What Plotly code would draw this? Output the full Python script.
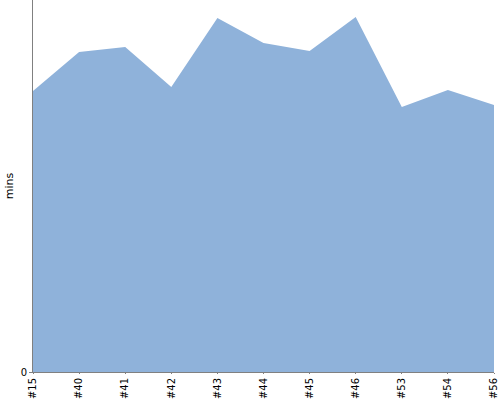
import plotly.graph_objects as go

categories = ["#15", "#40", "#41", "#42", "#43", "#44", "#45", "#46", "#53", "#54", "#56"]
mins = [28.1, 32.0, 32.5, 28.5, 35.4, 32.9, 32.1, 35.5, 26.5, 28.2, 26.7]

fig = go.Figure(go.Scatter(
    x=categories, y=mins, mode="lines", fill="tozeroy",
    line=dict(width=0, color="#8fb2da"), fillcolor="#8fb2da",
    hoverinfo="x+y",
))
fig.update_layout(
    width=500, height=400,
    margin=dict(l=33, r=6, t=0, b=28, autoexpand=False),
    plot_bgcolor="white", paper_bgcolor="white",
    showlegend=False,
    font=dict(family="DejaVu Sans", size=10, color="#000"),
)
fig.update_xaxes(
    type="category", range=[0, len(categories) - 1], automargin=False,
    showgrid=False, showline=True, linecolor="#808080", linewidth=1,
    ticks="outside", ticklen=1, tickcolor="#808080", tickangle=-90,
    tickfont=dict(size=10), ticklabelstandoff=0,
)
fig.update_yaxes(
    range=[0, 37.2], tickvals=[0], ticktext=["0"], automargin=False,
    showgrid=False, zeroline=False, showline=True, linecolor="#808080", linewidth=1,
    ticks="outside", ticklen=3, tickcolor="#808080",
    title=dict(text="mins", standoff=4, font=dict(size=11)),
)
fig.write_html("out.html", config={"displayModeBar": False},
               post_script="document.body.style.margin='0';document.body.style.overflow='hidden';")
